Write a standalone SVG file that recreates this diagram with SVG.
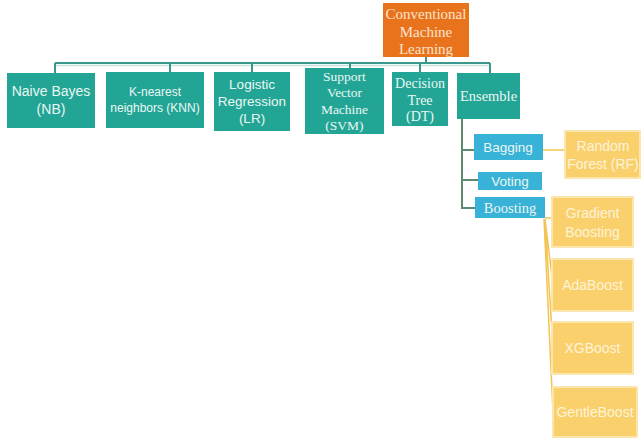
<svg xmlns="http://www.w3.org/2000/svg" width="641" height="445" viewBox="0 0 641 445">
<style>
.teal{fill:#22a595}
.org{fill:#e8731c}
.blue{fill:#38b2d6}
.yel{fill:#f9d06c;stroke:#fbe6b0;stroke-width:2}
.sans{font-family:"Liberation Sans",Arial,sans-serif;text-anchor:middle;dominant-baseline:central}
.serif{font-family:"Liberation Serif","Times New Roman",serif;text-anchor:middle;dominant-baseline:central}
.wt{fill:#eaf7f4}
.ot{fill:#fde4cc}
.yt{fill:#fff3d8}
.bus{stroke:#3b968c;stroke-width:2;fill:none}
.bus2{stroke:#bfe3dd;stroke-width:1.5;fill:none}
.ens{stroke:#5b8a6e;stroke-width:2;fill:none}
.yl{stroke:#f2c453;stroke-width:1.5;fill:none}
</style>
<rect width="641" height="445" fill="#ffffff"/>
<g id="connectors">
<line class="bus2" x1="55" y1="65.5" x2="490" y2="65.5"/>
<path class="bus" d="M426 56V63M55 63H490M55 63V73M170 63V72M252 63V72M350 63V68M420 63V72M490 63V73"/>
<path class="ens" d="M462 119V209M462 150H474M462 180H478M462 208H475"/>
<path class="yl" d="M543 150H565M545 218H552"/>
<path class="yl" d="M545 219L553 285M545 219L553 348M544 219L553 412"/>
</g>
<g id="cml"><rect class="org" x="383" y="3" width="86" height="54"/>
<text class="serif ot" font-size="15" x="426" y="14">Conventional</text>
<text class="serif ot" font-size="15" x="426" y="31.5">Machine</text>
<text class="serif ot" font-size="15" x="426" y="49">Learning</text></g>
<g id="nb"><rect class="teal" x="7" y="73" width="88" height="55"/>
<text class="sans wt" font-size="14" x="51" y="91">Naive Bayes</text>
<text class="sans wt" font-size="14" x="51" y="109">(NB)</text></g>
<g id="knn"><rect class="teal" x="106" y="72" width="98" height="56"/>
<text class="sans wt" font-size="12" x="155" y="92">K-nearest</text>
<text class="sans wt" font-size="12" x="155" y="108">neighbors (KNN)</text></g>
<g id="lr"><rect class="teal" x="214" y="72" width="76" height="59"/>
<text class="sans wt" font-size="13.5" x="252" y="84">Logistic</text>
<text class="sans wt" font-size="13.5" x="252" y="101">Regression</text>
<text class="sans wt" font-size="13.5" x="252" y="118">(LR)</text></g>
<g id="svm"><rect class="teal" x="305" y="68" width="79" height="66"/>
<text class="serif wt" font-size="13.5" x="344.5" y="76">Support</text>
<text class="serif wt" font-size="13.5" x="344.5" y="92.5">Vector</text>
<text class="serif wt" font-size="13.5" x="344.5" y="109">Machine</text>
<text class="serif wt" font-size="13.5" x="344.5" y="125.5">(SVM)</text></g>
<g id="dt"><rect class="teal" x="392" y="72" width="56" height="54"/>
<text class="serif wt" font-size="14" x="420" y="83">Decision</text>
<text class="serif wt" font-size="14" x="420" y="100">Tree</text>
<text class="serif wt" font-size="14" x="420" y="116">(DT)</text></g>
<g id="ensemble"><rect class="teal" x="457" y="73" width="63" height="46"/>
<text class="serif wt" font-size="14.5" x="488.5" y="96">Ensemble</text></g>
<g id="bagging"><rect class="blue" x="474" y="134" width="69" height="26"/>
<text class="sans wt" font-size="13.5" x="508" y="147">Bagging</text></g>
<g id="voting"><rect class="blue" x="478" y="172" width="64" height="18"/>
<text class="sans wt" font-size="13.5" x="510" y="181">Voting</text></g>
<g id="boosting"><rect class="blue" x="475" y="197" width="70" height="21"/>
<text class="serif wt" font-size="14.5" x="510" y="207.5">Boosting</text></g>
<g id="rf"><rect class="yel" x="565" y="131" width="75" height="47"/>
<text class="sans yt" font-size="14" x="603" y="146">Random</text>
<text class="sans yt" font-size="14" x="603" y="164">Forest (RF)</text></g>
<g id="gb"><rect class="yel" x="552" y="197" width="81" height="50"/>
<text class="sans yt" font-size="14" x="592.5" y="213">Gradient</text>
<text class="sans yt" font-size="14" x="592.5" y="232">Boosting</text></g>
<g id="ada"><rect class="yel" x="552" y="259" width="81" height="52"/>
<text class="sans yt" font-size="14" x="592.5" y="285">AdaBoost</text></g>
<g id="xgb"><rect class="yel" x="552" y="322" width="81" height="52"/>
<text class="sans yt" font-size="14" x="592.5" y="348">XGBoost</text></g>
<g id="gentle"><rect class="yel" x="553" y="387" width="84" height="50"/>
<text class="sans yt" font-size="14" x="595" y="412">GentleBoost</text></g>
</svg>
